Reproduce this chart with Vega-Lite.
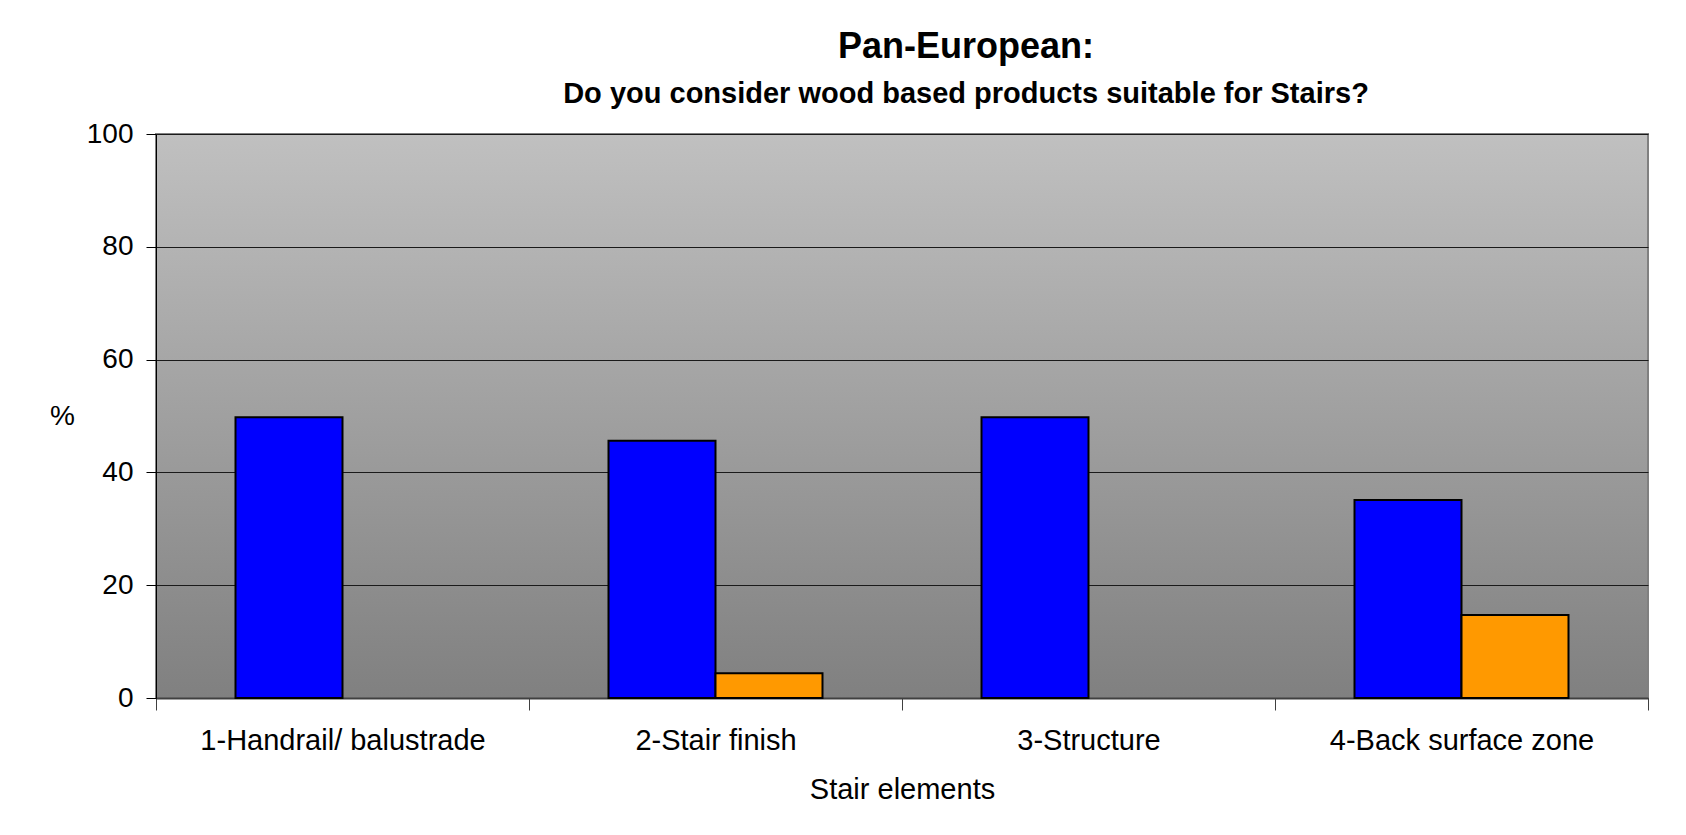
{
  "$schema": "https://vega.github.io/schema/vega-lite/v6.json",
  "autosize": {"type": "none"},
  "padding": {"left": 156, "top": 134, "right": 38, "bottom": 137},
  "width": 1492,
  "height": 564,
  "background": "white",
  "title": {
    "text": "Pan-European:",
    "subtitle": "Do you consider wood based products suitable for Stairs?",
    "anchor": "middle",
    "frame": "group",
    "dx": 64,
    "offset": 10,
    "font": "Liberation Sans",
    "fontSize": 36,
    "fontWeight": "bold",
    "color": "black",
    "subtitleFont": "Liberation Sans",
    "subtitleFontSize": 29,
    "subtitleFontWeight": "bold",
    "subtitleColor": "black",
    "subtitlePadding": 14
  },
  "data": {
    "values": [
      {"element": "1-Handrail/ balustrade", "series": "Series 1", "value": 49.8},
      {"element": "1-Handrail/ balustrade", "series": "Series 2", "value": 0},
      {"element": "2-Stair finish", "series": "Series 1", "value": 45.6},
      {"element": "2-Stair finish", "series": "Series 2", "value": 4.4},
      {"element": "3-Structure", "series": "Series 1", "value": 49.8},
      {"element": "3-Structure", "series": "Series 2", "value": 0},
      {"element": "4-Back surface zone", "series": "Series 1", "value": 35.1},
      {"element": "4-Back surface zone", "series": "Series 2", "value": 14.7}
    ]
  },
  "transform": [{"filter": "datum.value > 0"}],
  "mark": {"type": "bar", "stroke": "black", "strokeWidth": 2},
  "encoding": {
    "x": {
      "field": "element",
      "type": "nominal",
      "sort": null,
      "scale": {"paddingInner": 0, "paddingOuter": 0},
      "axis": {
        "title": "Stair elements",
        "labelAngle": 0,
        "labelLimit": 0,
        "labelFont": "Liberation Sans",
        "labelFontSize": 29,
        "labelColor": "black",
        "labelPadding": 16,
        "tickBand": "extent",
        "tickSize": 12,
        "tickColor": "#404040",
        "domainColor": "#404040",
        "domainWidth": 2,
        "titleFont": "Liberation Sans",
        "titleFontSize": 29,
        "titleFontWeight": "normal",
        "titleColor": "black",
        "titlePadding": 20
      }
    },
    "xOffset": {
      "field": "series",
      "type": "nominal",
      "scale": {"domain": ["Series 1", "Series 2"], "paddingInner": 0, "paddingOuter": 0.743}
    },
    "y": {
      "field": "value",
      "type": "quantitative",
      "scale": {"domain": [0, 100], "nice": false},
      "axis": {
        "title": "%",
        "titleAngle": 0,
        "titleX": -94,
        "titleY": 282,
        "titleAlign": "center",
        "titleBaseline": "middle",
        "titleFont": "Liberation Sans",
        "titleFontSize": 28,
        "titleFontWeight": "normal",
        "titleColor": "black",
        "values": [0, 20, 40, 60, 80, 100],
        "labelFont": "Liberation Sans",
        "labelFontSize": 28,
        "labelColor": "black",
        "labelPadding": 13,
        "tickSize": 10,
        "tickColor": "black",
        "domainColor": "black",
        "gridColor": "#1a1a1a",
        "gridWidth": 1
      }
    },
    "color": {
      "field": "series",
      "type": "nominal",
      "scale": {"domain": ["Series 1", "Series 2"], "range": ["#0000FF", "#FF9900"]},
      "legend": null
    }
  },
  "config": {
    "view": {
      "stroke": "#808080",
      "strokeWidth": 2,
      "fill": {
        "gradient": "linear",
        "x1": 0, "y1": 0, "x2": 0, "y2": 1,
        "stops": [
          {"offset": 0, "color": "#c0c0c0"},
          {"offset": 1, "color": "#808080"}
        ]
      }
    }
  }
}
